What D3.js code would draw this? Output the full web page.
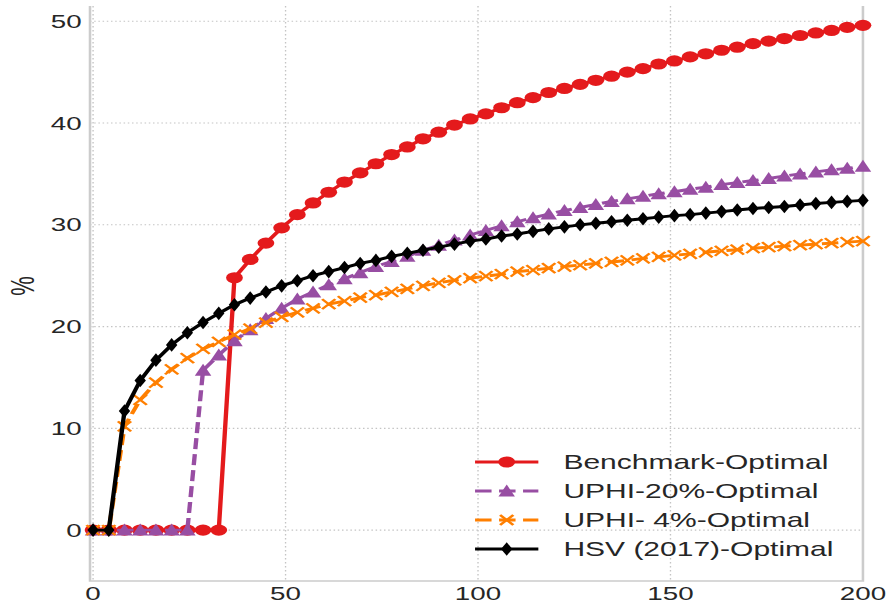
<!DOCTYPE html>
<html>
<head>
<meta charset="utf-8" />
<style>
  body { margin: 0; background: #fff; }
  svg { display: block; }
  text { font-family: "Liberation Sans", Arial, sans-serif; fill: #262626; }
</style>
</head>
<body>
<div id="chart"></div>
<script src="https://d3js.org/d3.v7.min.js"></script>
<script>
// x grid (50 points from 0 to 200)
var steps = [0, 4.08, 8.16, 12.24, 16.33, 20.41, 24.49, 28.57, 32.65, 36.73,
  40.82, 44.9, 48.98, 53.06, 57.14, 61.22, 65.31, 69.39, 73.47, 77.55,
  81.63, 85.71, 89.8, 93.88, 97.96, 102.04, 106.12, 110.2, 114.29, 118.37,
  122.45, 126.53, 130.61, 134.69, 138.78, 142.86, 146.94, 151.02, 155.1, 159.18,
  163.27, 167.35, 171.43, 175.51, 179.59, 183.67, 187.76, 191.84, 195.92, 200];

var benchmark = [0, 0, 0, 0, 0, 0, 0, 0, 0, 24.8,
  26.6, 28.2, 29.7, 31.0, 32.15, 33.2, 34.2, 35.1, 36.0, 36.9,
  37.65, 38.45, 39.1, 39.8, 40.4, 40.9, 41.5, 42.0, 42.5, 43.0,
  43.4, 43.8, 44.2, 44.6, 45.0, 45.35, 45.8, 46.1, 46.5, 46.8,
  47.15, 47.45, 47.8, 48.05, 48.3, 48.6, 48.85, 49.1, 49.4, 49.6];

var uphi20 = [0, 0, 0, 0, 0, 0, 0, 15.7, 17.2, 18.6,
  19.7, 20.8, 21.8, 22.7, 23.4, 24.1, 24.7, 25.3, 25.9, 26.4,
  26.9, 27.5, 28.0, 28.5, 29.0, 29.45, 29.9, 30.3, 30.7, 31.05,
  31.4, 31.7, 32.0, 32.3, 32.55, 32.8, 33.05, 33.25, 33.5, 33.7,
  33.95, 34.15, 34.35, 34.55, 34.8, 35.0, 35.2, 35.4, 35.55, 35.75];

var uphi4 = [0, 0, 10.2, 12.8, 14.5, 15.8, 16.9, 17.8, 18.5, 19.2,
  19.8, 20.4, 20.95, 21.4, 21.8, 22.2, 22.5, 22.85, 23.1, 23.4,
  23.7, 24.0, 24.3, 24.55, 24.75, 24.95, 25.15, 25.4, 25.55, 25.75,
  25.9, 26.05, 26.2, 26.35, 26.5, 26.7, 26.85, 27.0, 27.15, 27.3,
  27.45, 27.55, 27.7, 27.8, 27.9, 28.0, 28.1, 28.2, 28.3, 28.4];

var hsv = [0, 0, 11.7, 14.7, 16.7, 18.2, 19.4, 20.4, 21.3, 22.15,
  22.8, 23.4, 24.0, 24.5, 25.0, 25.4, 25.8, 26.2, 26.5, 26.9,
  27.2, 27.5, 27.8, 28.1, 28.4, 28.6, 28.9, 29.1, 29.35, 29.6,
  29.8, 30.0, 30.15, 30.3, 30.45, 30.6, 30.75, 30.9, 31.0, 31.15,
  31.3, 31.45, 31.6, 31.7, 31.8, 31.95, 32.1, 32.2, 32.3, 32.4];

var seriesNames = ["Benchmark-Optimal", "UPHI-20%-Optimal", "UPHI- 4%-Optimal", "HSV (2017)-Optimal"];
var xTicks = [0, 50, 100, 150, 200];
var yTicks = [0, 10, 20, 30, 40, 50];

// the picture is stretched sideways, so draw in a narrow box and stretch it
var W = 891, H = 605, sx = 1.5;
var iw = W / sx;

var series = [
  { name: seriesNames[0], values: benchmark, color: "#e41a1c", dash: null, marker: "circle" },
  { name: seriesNames[1], values: uphi20, color: "#984ea3", dash: "11,5", marker: "triangle" },
  { name: seriesNames[2], values: uphi4, color: "#ff7f00", dash: "11,5", marker: "x" },
  { name: seriesNames[3], values: hsv, color: "#000000", dash: null, marker: "diamond" }
];

var x = d3.scaleLinear().domain([-0.8, 200]).range([60, 575.3]);
var y = d3.scaleLinear().domain([-5, 51.5]).range([581, 6]);

var svg = d3.select("#chart").append("svg")
  .attr("width", W)
  .attr("height", H)
  .attr("viewBox", "0 0 " + iw + " " + H)
  .attr("preserveAspectRatio", "none");

svg.append("rect").attr("width", iw).attr("height", H).attr("fill", "#fff");

// grid
svg.append("g").selectAll("line").data(yTicks).enter().append("line")
  .attr("x1", x.range()[0]).attr("x2", x.range()[1])
  .attr("y1", function(d) { return y(d); }).attr("y2", function(d) { return y(d); })
  .attr("stroke", "#c4c4c4").attr("stroke-width", 1.1).attr("stroke-dasharray", "1,1.8");

svg.append("g").selectAll("line").data(xTicks).enter().append("line")
  .attr("x1", function(d) { return x(d); }).attr("x2", function(d) { return x(d); })
  .attr("y1", y.range()[1]).attr("y2", y.range()[0])
  .attr("stroke", "#c4c4c4").attr("stroke-width", 0.9).attr("stroke-dasharray", "1.5,2.5");

// spines (left, bottom, right)
var spine = svg.append("g").attr("stroke", "#cccccc").attr("stroke-width", 1.7).attr("fill", "none");
spine.append("path").attr("d", "M" + x.range()[0] + "," + y.range()[1] + "V" + y.range()[0] + "H" + x.range()[1] + "V" + y.range()[1]);

// tick labels
svg.append("g").selectAll("text").data(yTicks).enter().append("text")
  .attr("x", 54.5).attr("y", function(d) { return y(d); })
  .attr("dy", "0.36em")
  .attr("text-anchor", "end")
  .style("font-size", "18.5px")
  .text(function(d) { return d; });

svg.append("g").selectAll("text").data(xTicks).enter().append("text")
  .attr("x", function(d) { return x(d); }).attr("y", 600.5)
  .attr("text-anchor", "middle")
  .style("font-size", "18.5px")
  .text(function(d) { return d; });

svg.append("text")
  .attr("transform", "translate(22.5,286) rotate(-90)")
  .attr("text-anchor", "middle")
  .style("font-size", "22px")
  .text("%");

// markers
function markerPath(type) {
  if (type === "circle") return "M5.6,0A5.6,5.6 0 1,1 -5.6,0A5.6,5.6 0 1,1 5.6,0Z";
  if (type === "triangle") return "M0,-6.5L5.5,5.5L-5.5,5.5Z";
  if (type === "diamond") return "M0,-6.8L3.8,0L0,6.8L-3.8,0Z";
  return "M-4.4,-5L4.4,5M-4.4,5L4.4,-5";
}

function drawMarker(sel, type, color) {
  if (type === "x") {
    sel.append("path").attr("d", markerPath(type))
      .attr("fill", "none").attr("stroke", color).attr("stroke-width", 1.9);
  } else {
    sel.append("path").attr("d", markerPath(type)).attr("fill", color);
  }
}

var line = d3.line()
  .x(function(d, i) { return x(steps[i]); })
  .y(function(d) { return y(d); });

series.forEach(function(s) {
  var g = svg.append("g");
  g.append("path")
    .attr("d", line(s.values))
    .attr("fill", "none")
    .attr("stroke", s.color)
    .attr("stroke-width", 2.9)
    .attr("stroke-dasharray", s.dash);
  g.selectAll("g").data(s.values).enter().append("g")
    .attr("transform", function(d, i) { return "translate(" + x(steps[i]) + "," + y(d) + ")"; })
    .each(function() { drawMarker(d3.select(this), s.marker, s.color); });
});

// legend
var legend = svg.append("g");
var rows = [462, 491, 520, 549];
series.forEach(function(s, i) {
  var r = legend.append("g").attr("transform", "translate(0," + rows[i] + ")");
  r.append("line")
    .attr("x1", 316.7).attr("x2", 358.9)
    .attr("stroke", s.color).attr("stroke-width", 2.9)
    .attr("stroke-dasharray", s.dash);
  drawMarker(r.append("g").attr("transform", "translate(337.8,0)"), s.marker, s.color);
  r.append("text")
    .attr("x", 375.6).attr("dy", "0.36em")
    .style("font-size", "20px")
    .text(s.name);
});
</script>
</body>
</html>
